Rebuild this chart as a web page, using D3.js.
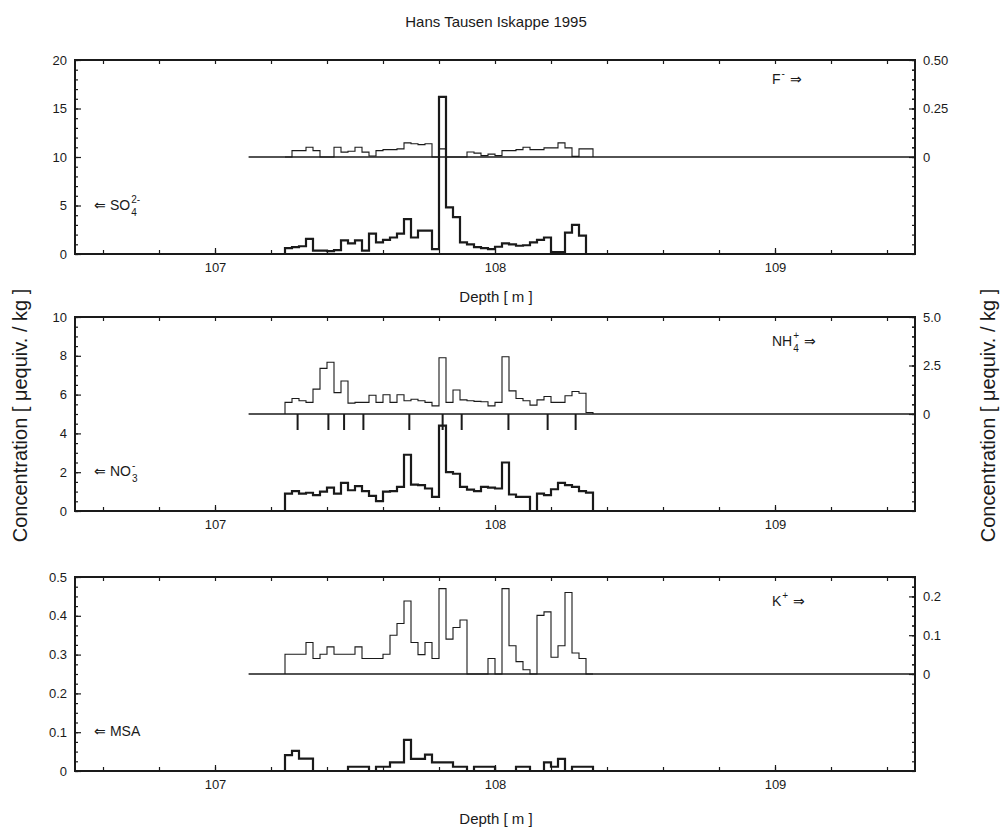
<!DOCTYPE html>
<html>
<head>
<meta charset="utf-8">
<script src="https://cdn.jsdelivr.net/npm/d3@7"></script>
<style>
  body { margin: 0; background: #fff; }
  svg { font-family: "Liberation Sans", Arial, sans-serif; }
  .axis path { display: none; }
  .axis line { stroke: #1a1a1a; stroke-width: 1.2; }
  .axis text { font-size: 13px; fill: #1a1a1a; }
  .lbl { font-size: 14px; fill: #1a1a1a; }
</style>
</head>
<body>
<script>
// depth bin edges [m], 2.5 cm samples
var depthEdges = [107.250, 107.275, 107.300, 107.325, 107.350, 107.375, 107.400, 107.425, 107.450,
  107.475, 107.500, 107.525, 107.550, 107.575, 107.600, 107.625, 107.650, 107.675, 107.700,
  107.725, 107.750, 107.775, 107.800, 107.825, 107.850, 107.875, 107.900, 107.925, 107.950,
  107.975, 108.000, 108.025, 108.050, 108.075, 108.100, 108.125, 108.150, 108.175, 108.200,
  108.225, 108.250, 108.275, 108.300, 108.325, 108.350];

var so4 = [0.6, 0.7, 0.8, 1.55, 0.35, 0.35, 0.3, 0.4, 1.4, 1.1, 1.4, 0.35, 2.1, 1.2, 1.45, 1.7,
  2.1, 3.6, 1.7, 2.4, 2.4, 0.5, 16.2, 4.8, 3.8, 1.2, 1.0, 0.7, 0.6, 0.5, 0.75, 1.1, 1.0, 0.85,
  0.9, 1.2, 1.45, 1.7, 0.2, 0.2, 2.2, 3.0, 1.9, 0];
var fluoride = [0, 0.033, 0.033, 0.05, 0.033, 0, 0, 0.05, 0.025, 0.03, 0.05, 0.025, 0.005, 0.033,
  0.038, 0.038, 0.042, 0.073, 0.068, 0.064, 0.068, 0, 0.042, 0, 0, 0, 0.026, 0.02, 0.007, 0.015,
  0.007, 0.033, 0.033, 0.038, 0.05, 0.038, 0.038, 0.047, 0.047, 0.073, 0.047, 0.003, 0.042, 0.042];
var nh4 = [0.6, 0.8, 0.68, 0.6, 1.28, 2.35, 2.67, 1.1, 1.7, 0.56, 0.6, 0.6, 0.97, 0.6, 0.99, 0.6,
  0.99, 0.68, 0.76, 0.68, 0.6, 0.42, 2.9, 0.6, 1.24, 0.73, 0.68, 0.65, 0.63, 0.42, 0.6, 2.95, 1.19,
  0.8, 0.68, 0.46, 0.73, 0.9, 0.6, 0.6, 0.94, 1.16, 1.07, 0.08];
var no3 = [0.9, 1.02, 0.9, 0.94, 0.82, 1.0, 1.2, 0.9, 1.45, 1.07, 1.28, 1.02, 0.78, 0.51, 1.0, 1.02,
  1.24, 2.9, 1.36, 1.33, 1.16, 0.73, 4.4, 2.0, 1.92, 1.24, 1.1, 1.02, 1.24, 1.2, 1.16, 2.5, 0.85,
  0.73, 0.73, 0, 0.9, 0.82, 1.12, 1.45, 1.33, 1.24, 1.02, 0.95];
var potassium = [0.051, 0.051, 0.051, 0.081, 0.04, 0.051, 0.07, 0.051, 0.051, 0.051, 0.07, 0.04,
  0.04, 0.04, 0.051, 0.10, 0.13, 0.188, 0.081, 0.05, 0.081, 0.04, 0.22, 0.09, 0.12, 0.139, 0, 0, 0,
  0.04, 0, 0.22, 0.073, 0.032, 0.011, 0, 0.151, 0.16, 0.043, 0.073, 0.21, 0.054, 0.04, 0];
var msa = [0.041, 0.052, 0.032, 0.032, 0, 0, 0, 0, 0, 0.011, 0.011, 0.011, 0, 0.011, 0.011, 0.022,
  0.022, 0.08, 0.031, 0.031, 0.042, 0.022, 0.022, 0.022, 0.011, 0.011, 0, 0.011, 0.011, 0.011, 0, 0,
  0, 0.011, 0.011, 0, 0, 0.022, 0.011, 0.031, 0, 0.011, 0.011, 0.011];

// depth markers under the NH4 trace
var markerDepths = [107.295, 107.405, 107.461, 107.53, 107.694, 107.813, 107.881, 108.048, 108.188, 108.288];

var depthTicks = [107, 108, 109];
var upperStart = 107.12;

var panels = [
  { lower: so4, upper: fluoride, leftDomain: [0, 20], leftTicks: [0, 5, 10, 15, 20], leftMinor: 1,
    rightMax: 0.5, rightTicks: [0, 0.25, 0.5], rightMinor: 0.05, rightFmt: ".2f",
    leftLabel: ["⇐ SO", "4", "2-"], rightLabel: ["F", "", "-"], labelAt: 0.25, rightDy: 24,
    depthTitle: 48 },
  { lower: no3, upper: nh4, leftDomain: [0, 10], leftTicks: [0, 2, 4, 6, 8, 10], leftMinor: 0.5,
    rightMax: 5, rightTicks: [0, 2.5, 5], rightMinor: 0.5, rightFmt: ".1f",
    leftLabel: ["⇐ NO", "3", "-"], rightLabel: ["NH", "4", "+"], labelAt: 0.2, rightDy: 29,
    markers: markerDepths },
  { lower: msa, upper: potassium, leftDomain: [0, 0.5], leftTicks: [0, 0.1, 0.2, 0.3, 0.4, 0.5], leftMinor: 0.025,
    rightMax: 0.25, rightTicks: [0, 0.1, 0.2], rightMinor: 0.025, rightFmt: ".1f",
    leftLabel: ["⇐ MSA", "", ""], rightLabel: ["K", "", "+"], labelAt: 0.2, rightDy: 29,
    depthTitle: 53 }
];

var W = 1006, H = 837;
var plotL = 75, plotR = 915;
var panelTops = [60, 317, 577], panelH = 194;
var ink = "#1a1a1a";

var svg = d3.select("body").append("svg").attr("width", W).attr("height", H);

var x = d3.scaleLinear().domain([106.5, 109.5]).range([plotL, plotR]);

svg.append("text").attr("x", 496).attr("y", 27).attr("text-anchor", "middle")
  .style("font-size", "15px").attr("fill", ink).text("Hans Tausen Iskappe 1995");

function range(a, b, s) {
  var out = [];
  for (var v = a; v <= b + s / 1000; v += s) out.push(+v.toFixed(4));
  return out;
}

function stepPoints(vals) {
  var pts = [[depthEdges[0], 0]];
  vals.forEach(function(v, i) { pts.push([depthEdges[i], v]); });
  pts.push([depthEdges[vals.length], 0]);
  return pts;
}

// label with stacked sub/superscript, drawn as separate small texts
function chemLabel(g, px, py, parts, arrowAfter) {
  var t = g.append("text").attr("class", "lbl").attr("x", px).attr("y", py).text(parts[0]);
  var w = t.node().getComputedTextLength();
  var sw = 0;
  if (parts[2]) {
    var sup = g.append("text").attr("class", "lbl").style("font-size", "10px")
      .attr("x", px + w + 1).attr("y", py - 7).text(parts[2]);
    sw = Math.max(sw, sup.node().getComputedTextLength());
  }
  if (parts[1]) {
    var sub = g.append("text").attr("class", "lbl").style("font-size", "10px")
      .attr("x", px + w + 1).attr("y", py + 6).text(parts[1]);
    sw = Math.max(sw, sub.node().getComputedTextLength());
  }
  if (arrowAfter) {
    g.append("text").attr("class", "lbl").attr("x", px + w + sw + 6).attr("y", py).text("⇒");
  }
}

panels.forEach(function(p, k) {
  var top = panelTops[k], bottom = top + panelH;
  var g = svg.append("g");
  var y = d3.scaleLinear().domain(p.leftDomain).range([bottom, top]);
  var mid = (p.leftDomain[0] + p.leftDomain[1]) / 2;
  var y2 = d3.scaleLinear().domain([0, p.rightMax]).range([y(mid), top]);

  // minor ticks
  var minorY = range(p.leftDomain[0], p.leftDomain[1], p.leftMinor);
  g.append("g").attr("class", "axis").attr("transform", "translate(" + plotL + ",0)")
    .call(d3.axisLeft(y).tickValues(minorY).tickSize(-3).tickFormat(""));
  g.append("g").attr("class", "axis").attr("transform", "translate(" + plotR + ",0)")
    .call(d3.axisRight(y).tickValues(minorY).tickSize(-3).tickFormat(""));
  var minorY2 = range(0, p.rightMax, p.rightMinor);
  g.append("g").attr("class", "axis").attr("transform", "translate(" + plotR + ",0)")
    .call(d3.axisRight(y2).tickValues(minorY2).tickSize(-3).tickFormat(""));
  var minorX = range(106.6, 109.4, 0.2);
  g.append("g").attr("class", "axis").attr("transform", "translate(0," + bottom + ")")
    .call(d3.axisBottom(x).tickValues(minorX).tickSize(-4).tickFormat(""));
  g.append("g").attr("class", "axis").attr("transform", "translate(0," + top + ")")
    .call(d3.axisTop(x).tickValues(minorX).tickSize(-4).tickFormat(""));

  // major ticks and labels
  g.append("g").attr("class", "axis").attr("transform", "translate(" + plotL + ",0)")
    .call(d3.axisLeft(y).tickValues(p.leftTicks).tickSize(-6).tickPadding(8)
      .tickFormat(function(d) { return d === 0 ? "0" : d3.format("~g")(d); }));
  var fr = d3.format(p.rightFmt);
  g.append("g").attr("class", "axis").attr("transform", "translate(" + plotR + ",0)")
    .call(d3.axisRight(y2).tickValues(p.rightTicks).tickSize(-6).tickPadding(8)
      .tickFormat(function(d) { return d === 0 ? "0" : fr(d); }));
  g.append("g").attr("class", "axis").attr("transform", "translate(0," + bottom + ")")
    .call(d3.axisBottom(x).tickValues(depthTicks).tickSize(-6).tickPadding(9)
      .tickFormat(d3.format("d")));

  // frame
  g.append("rect").attr("x", plotL).attr("y", top).attr("width", plotR - plotL).attr("height", panelH)
    .attr("fill", "none").attr("stroke", ink).attr("stroke-width", 2);

  // upper series baseline
  g.append("line").attr("x1", x(upperStart)).attr("x2", plotR)
    .attr("y1", y2(0)).attr("y2", y2(0)).attr("stroke", ink).attr("stroke-width", 1.6);

  var line = d3.line().curve(d3.curveStepAfter);

  g.append("path")
    .attr("d", line.x(function(d) { return x(d[0]); }).y(function(d) { return y2(d[1]); })(stepPoints(p.upper)))
    .attr("fill", "none").attr("stroke", ink).attr("stroke-width", 1.1);

  g.append("path")
    .attr("d", line.x(function(d) { return x(d[0]); }).y(function(d) { return y(d[1]); })(stepPoints(p.lower)))
    .attr("fill", "none").attr("stroke", ink).attr("stroke-width", 2.2);

  if (p.markers) {
    g.selectAll("line.marker").data(p.markers).enter().append("line").attr("class", "marker")
      .attr("x1", function(d) { return x(d); }).attr("x2", function(d) { return x(d); })
      .attr("y1", y2(0)).attr("y2", y2(0) + 16)
      .attr("stroke", ink).attr("stroke-width", 2);
  }

  chemLabel(g, 94, y(p.leftDomain[1] * p.labelAt) + 4, p.leftLabel, false);
  chemLabel(g, 772, top + p.rightDy, p.rightLabel, true);

  if (p.depthTitle) {
    g.append("text").attr("x", 496).attr("y", bottom + p.depthTitle).attr("text-anchor", "middle")
      .style("font-size", "15px").attr("fill", ink).text("Depth [ m ]");
  }
});

var yMid = (panelTops[0] + panelTops[2] + panelH) / 2;
svg.append("text").attr("transform", "translate(27," + yMid + ") rotate(-90)")
  .attr("text-anchor", "middle").style("font-size", "20px").attr("fill", ink)
  .text("Concentration [ μequiv. / kg ]");
svg.append("text").attr("transform", "translate(995," + yMid + ") rotate(-90)")
  .attr("text-anchor", "middle").style("font-size", "20px").attr("fill", ink)
  .text("Concentration [ μequiv. / kg ]");
</script>
</body>
</html>
